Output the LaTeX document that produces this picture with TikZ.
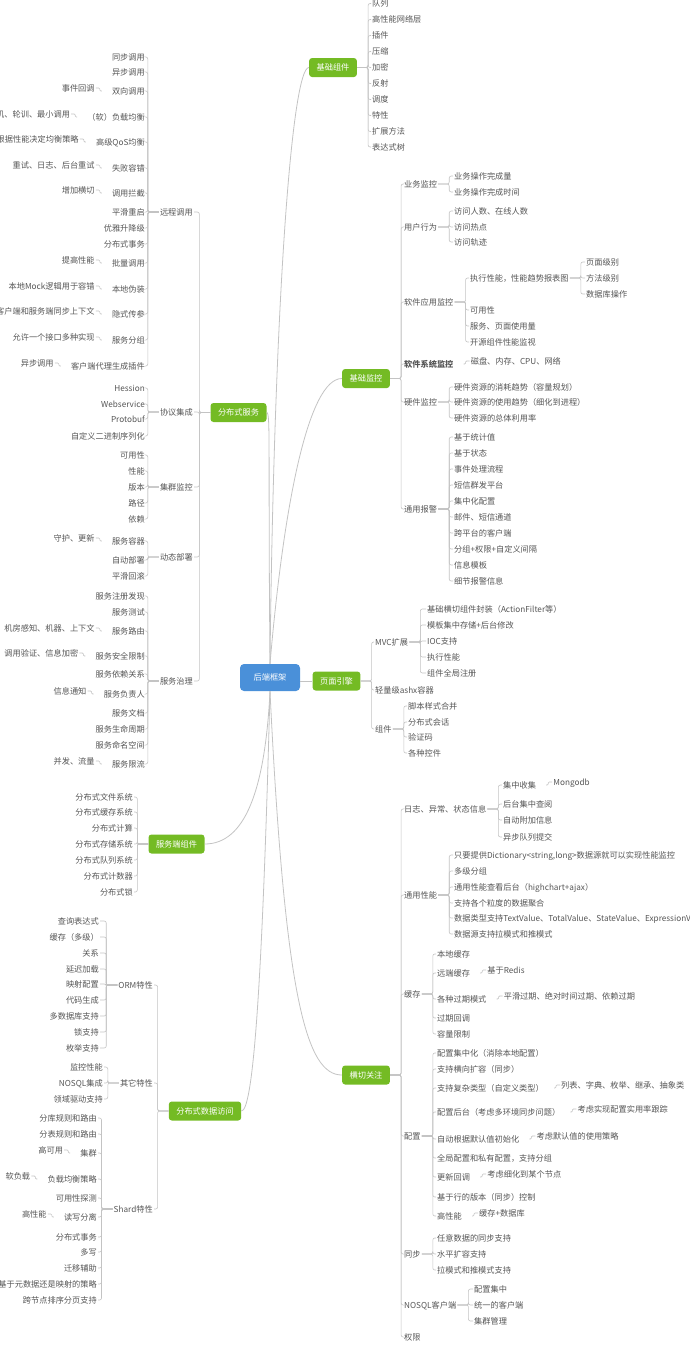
\documentclass[tikz,border=0pt]{standalone}
\usepackage{fontspec}
\setmainfont{Noto Sans CJK SC}
\usepackage{tikz}
\usetikzlibrary{positioning}
\definecolor{txt}{RGB}{85,85,85}
\definecolor{lnk}{RGB}{195,195,195}
\definecolor{grn}{RGB}{116,187,36}
\definecolor{blu}{RGB}{74,144,217}
\newcommand\fs{\fontsize{8.2}{10}\selectfont}

\begin{document}
\begin{tikzpicture}[x=1pt,y=-1pt]
\tikzstyle{every node}+=[inner sep=1pt, text=txt, font=\fs, text height=7.2pt, text depth=1pt]
\tikzstyle{rt}=[anchor=west]
\tikzstyle{lt}=[anchor=east]
\tikzstyle{box}=[fill=grn, text=white, rounded corners=3pt, inner xsep=7.5pt, minimum height=19pt]
\tikzstyle{root}=[fill=blu, text=white, rounded corners=4pt, minimum width=60pt, minimum height=27pt]
\tikzstyle{link}=[draw=lnk, line width=0.6pt, rounded corners=2pt]
\tikzstyle{hook}=[draw=lnk, line width=0.6pt, rounded corners=1pt, shorten <=9pt]
\tikzstyle{curve}=[draw=lnk, line width=0.8pt]
\tikzstyle{toR}=[to path={-- ++(11,0) |- (\tikztotarget)}]
\tikzstyle{toL}=[to path={-- ++(-11,0) |- (\tikztotarget)}]
\useasboundingbox (0,0) rectangle (690,1345);

% centre and main branches
\node[root] (root) at (270,677.5) {后端框架};
\node[box] (jczj) at (333,67.5) {基础组件};
\node[box] (jcjk) at (366,378.5) {基础监控};
\node[box] (ymyq) at (336.5,681) {页面引擎};
\node[box] (qqgz) at (366,1075) {横切关注};
\node[box] (fbsfw) at (238.5,412.5) {分布式服务};
\node[box] (fwdzj) at (176.5,844) {服务端组件};
\node[box] (fbssj) at (205,1111) {分布式数据访问};

\draw[curve] (root.north) .. controls +(4,-360) and +(-17,0) .. (jczj.west);
\draw[curve] (root.north) .. controls +(14,-163) and +(-33,0) .. (jcjk.west);
\draw[curve] (root.north) .. controls +(-2,-213) and +(4,0) .. (fbsfw.east);
\draw[curve] (root.east |- ymyq.west) -- (ymyq.west);
\draw[curve] (root.south) .. controls +(-5,100) and +(40,0) .. (fwdzj.east);
\draw[curve] (root.south) .. controls +(-8,310) and +(11,0) .. (fbssj.east);
\draw[curve] (root.south) .. controls +(15,310) and +(-35,0) .. (qqgz.west);

% 基础组件
\node[rt] (jz1) at (371,3.5) {队列};
\node[rt] (jz2) at (371,19.5) {高性能网络层};
\node[rt] (jz3) at (371,35.5) {插件};
\node[rt] (jz4) at (371,51.5) {压缩};
\node[rt] (jz5) at (371,67.5) {加密};
\node[rt] (jz6) at (371,83.5) {反射};
\node[rt] (jz7) at (371,99.5) {调度};
\node[rt] (jz8) at (371,115.5) {特性};
\node[rt] (jz9) at (371,131.5) {扩展方法};
\node[rt] (jz10) at (371,147) {表达式树};
\draw[link] (jczj.east) edge[toR] (jz1.west) edge[toR] (jz2.west) edge[toR] (jz3.west)
  edge[toR] (jz4.west) edge[toR] (jz5.west) edge[toR] (jz6.west) edge[toR] (jz7.west)
  edge[toR] (jz8.west) edge[toR] (jz9.west) edge[toR] (jz10.west);

% 基础监控
\node[rt] (ywjk) at (403,184) {业务监控};
\node[rt] (yhxw) at (403,227) {用户行为};
\node[rt] (rjyy) at (403,302) {软件应用监控};
\node[rt, font=\fs\bfseries] (rjxt) at (403,364) {软件系统监控};
\node[rt] (yjjk) at (403,402) {硬件监控};
\node[rt] (tybj) at (403,509) {通用报警};
\draw[link] (jcjk.east) edge[toR] (ywjk.west) edge[toR] (yhxw.west) edge[toR] (rjyy.west)
  edge[toR] (rjxt.west) edge[toR] (yjjk.west) edge[toR] (tybj.west);

\node[rt] (yw1) at (453,176) {业务操作完成量};
\node[rt] (yw2) at (453,192) {业务操作完成时间};
\draw[link] (ywjk.east) edge[toR] (yw1.west) edge[toR] (yw2.west);

\node[rt] (yh1) at (453,211) {访问人数、在线人数};
\node[rt] (yh2) at (453,227) {访问热点};
\node[rt] (yh3) at (453,242) {访问轨迹};
\draw[link] (yhxw.east) edge[toR] (yh1.west) edge[toR] (yh2.west) edge[toR] (yh3.west);

\node[rt] (ry1) at (469,278) {执行性能，性能趋势报表图};
\node[rt] (ry2) at (469,310) {可用性};
\node[rt] (ry3) at (469,326) {服务、页面使用量};
\node[rt] (ry4) at (469,342) {开源组件性能监视};
\draw[link] (rjyy.east) edge[toR] (ry1.west) edge[toR] (ry2.west) edge[toR] (ry3.west) edge[toR] (ry4.west);

\node[rt] (zx1) at (585,262) {页面级别};
\node[rt] (zx2) at (585,278) {方法级别};
\node[rt] (zx3) at (585,294) {数据库操作};
\draw[link] (ry1.east) edge[toR] (zx1.west) edge[toR] (zx2.west) edge[toR] (zx3.west);

\node[right=15pt of rjxt, yshift=3pt] (xt1) {磁盘、内存、CPU、网络};
\draw[hook] (rjxt.east) to[toR] (xt1.west);

\node[rt] (yj1) at (453,387) {硬件资源的消耗趋势（容量规划）};
\node[rt] (yj2) at (453,402) {硬件资源的使用趋势（细化到进程）};
\node[rt] (yj3) at (453,418) {硬件资源的总体利用率};
\draw[link] (yjjk.east) edge[toR] (yj1.west) edge[toR] (yj2.west) edge[toR] (yj3.west);

\node[rt] (bj1) at (453,437) {基于统计值};
\node[rt] (bj2) at (453,453) {基于状态};
\node[rt] (bj3) at (453,469) {事件处理流程};
\node[rt] (bj4) at (453,485) {短信群发平台};
\node[rt] (bj5) at (453,501) {集中化配置};
\node[rt] (bj6) at (453,517) {邮件、短信通道};
\node[rt] (bj7) at (453,533) {跨平台的客户端};
\node[rt] (bj8) at (453,549) {分组+权限+自定义间隔};
\node[rt] (bj9) at (453,565) {信息模板};
\node[rt] (bj10) at (453,581) {细节报警信息};
\draw[link] (tybj.east) edge[toR] (bj1.west) edge[toR] (bj2.west) edge[toR] (bj3.west)
  edge[toR] (bj4.west) edge[toR] (bj5.west) edge[toR] (bj6.west) edge[toR] (bj7.west)
  edge[toR] (bj8.west) edge[toR] (bj9.west) edge[toR] (bj10.west);

% 页面引擎
\node[rt] (mvc) at (374,642) {MVC扩展};
\node[rt] (ashx) at (374,690) {轻量级ashx容器};
\node[rt] (zj) at (374,729) {组件};
\draw[link] (ymyq.east) edge[toR] (mvc.west) edge[toR] (ashx.west) edge[toR] (zj.west);

\node[rt] (mv1) at (426,609) {基础横切组件封装（ActionFilter等）};
\node[rt] (mv2) at (426,625) {模板集中存储+后台修改};
\node[rt] (mv3) at (426,641) {IOC支持};
\node[rt] (mv4) at (426,657) {执行性能};
\node[rt] (mv5) at (426,673) {组件全局注册};
\draw[link] (mvc.east) edge[toR] (mv1.west) edge[toR] (mv2.west) edge[toR] (mv3.west)
  edge[toR] (mv4.west) edge[toR] (mv5.west);

\node[rt] (zj1) at (407,706) {脚本样式合并};
\node[rt] (zj2) at (407,722) {分布式会话};
\node[rt] (zj3) at (407,737) {验证码};
\node[rt] (zj4) at (407,753) {各种控件};
\draw[link] (zj.east) edge[toR] (zj1.west) edge[toR] (zj2.west) edge[toR] (zj3.west) edge[toR] (zj4.west);

% 横切关注
\node[rt] (rz) at (403,809) {日志、异常、状态信息};
\node[rt] (tyxn) at (403,895) {通用性能};
\node[rt] (hc) at (403,994) {缓存};
\node[rt] (pz) at (403,1136) {配置};
\node[rt] (tb) at (403,1254) {同步};
\node[rt] (nosql) at (403,1305) {NOSQL客户端};
\node[rt] (qx) at (403,1337) {权限};
\draw[link] (qqgz.east) edge[toR] (rz.west) edge[toR] (tyxn.west) edge[toR] (hc.west)
  edge[toR] (pz.west) edge[toR] (tb.west) edge[toR] (nosql.west) edge[toR] (qx.west);

\node[rt] (rz1) at (502,785) {集中收集};
\node[rt] (rz2) at (502,804) {后台集中查阅};
\node[rt] (rz3) at (502,820) {自动附加信息};
\node[rt] (rz4) at (502,837) {异步队列提交};
\draw[link] (rz.east) edge[toR] (rz1.west) edge[toR] (rz2.west) edge[toR] (rz3.west) edge[toR] (rz4.west);
\node[right=15pt of rz1, yshift=3pt] (mgdb) {Mongodb};
\draw[hook] (rz1.east) to[toR] (mgdb.west);

\node[rt] (xn1) at (453,855) {只要提供Dictionary<string,long>数据源就可以实现性能监控};
\node[rt] (xn2) at (453,871) {多级分组};
\node[rt] (xn3) at (453,887) {通用性能查看后台（highchart+ajax）};
\node[rt] (xn4) at (453,903) {支持各个粒度的数据聚合};
\node[rt] (xn5) at (453,918) {数据类型支持TextValue、TotalValue、StateValue、ExpressionValue};
\node[rt] (xn6) at (453,934) {数据源支持拉模式和推模式};
\draw[link] (tyxn.east) edge[toR] (xn1.west) edge[toR] (xn2.west) edge[toR] (xn3.west)
  edge[toR] (xn4.west) edge[toR] (xn5.west) edge[toR] (xn6.west);

\node[rt] (hc1) at (436,954) {本地缓存};
\node[rt] (hc2) at (436,973) {远端缓存};
\node[rt] (hc3) at (436,999) {各种过期模式};
\node[rt] (hc4) at (436,1018) {过期回调};
\node[rt] (hc5) at (436,1034) {容量限制};
\draw[link] (hc.east) edge[toR] (hc1.west) edge[toR] (hc2.west) edge[toR] (hc3.west)
  edge[toR] (hc4.west) edge[toR] (hc5.west);
\node[right=15pt of hc2, yshift=3pt] (redis) {基于Redis};
\node[right=15pt of hc3, yshift=3pt] (gq) {平滑过期、绝对时间过期、依赖过期};
\draw[hook] (hc2.east) to[toR] (redis.west);
\draw[hook] (hc3.east) to[toR] (gq.west);

\node[rt] (pz1) at (436,1053) {配置集中化（消除本地配置）};
\node[rt] (pz2) at (436,1069) {支持横向扩容（同步）};
\node[rt] (pz3) at (436,1088) {支持复杂类型（自定义类型）};
\node[rt] (pz4) at (436,1112) {配置后台（考虑多环境同步问题）};
\node[rt] (pz5) at (436,1139) {自动根据默认值初始化};
\node[rt] (pz6) at (436,1158) {全局配置和私有配置，支持分组};
\node[rt] (pz7) at (436,1177) {更新回调};
\node[rt] (pz8) at (436,1197) {基于行的版本（同步）控制};
\node[rt] (pz9) at (436,1216) {高性能};
\draw[link] (pz.east) edge[toR] (pz1.west) edge[toR] (pz2.west) edge[toR] (pz3.west)
  edge[toR] (pz4.west) edge[toR] (pz5.west) edge[toR] (pz6.west) edge[toR] (pz7.west)
  edge[toR] (pz8.west) edge[toR] (pz9.west);
\node[right=15pt of pz3, yshift=3pt] (lb) {列表、字典、枚举、继承、抽象类};
\node[right=15pt of pz4, yshift=3pt] (syl) {考虑实现配置实用率跟踪};
\node[right=15pt of pz5, yshift=3pt] (mrz) {考虑默认值的使用策略};
\node[right=15pt of pz7, yshift=3pt] (jd) {考虑细化到某个节点};
\node[right=15pt of pz9, yshift=3pt] (hcsj) {缓存+数据库};
\draw[hook] (pz3.east) to[toR] (lb.west);
\draw[hook] (pz4.east) to[toR] (syl.west);
\draw[hook] (pz5.east) to[toR] (mrz.west);
\draw[hook] (pz7.east) to[toR] (jd.west);
\draw[hook] (pz9.east) to[toR] (hcsj.west);

\node[rt] (tb1) at (436,1238) {任意数据的同步支持};
\node[rt] (tb2) at (436,1254) {水平扩容支持};
\node[rt] (tb3) at (436,1270) {拉模式和推模式支持};
\draw[link] (tb.east) edge[toR] (tb1.west) edge[toR] (tb2.west) edge[toR] (tb3.west);

\node[rt] (ns1) at (473,1289) {配置集中};
\node[rt] (ns2) at (473,1305) {统一的客户端};
\node[rt] (ns3) at (473,1321) {集群管理};
\draw[link] (nosql.east) edge[toR] (ns1.west) edge[toR] (ns2.west) edge[toR] (ns3.west);

% 分布式服务
\node[lt] (ycdy) at (194,212) {远程调用};
\node[lt] (xyjc) at (194,412) {协议集成};
\node[lt] (jqjk) at (194,487) {集群监控};
\node[lt] (dtbs) at (194,557) {动态部署};
\node[lt] (fwzl) at (194,681) {服务治理};
\draw[link] (fbsfw.west) edge[toL] (ycdy.east) edge[toL] (xyjc.east) edge[toL] (jqjk.east)
  edge[toL] (dtbs.east) edge[toL] (fwzl.east);

\node[lt] (yc1) at (146,57) {同步调用};
\node[lt] (yc2) at (146,72) {异步调用};
\node[lt] (yc3) at (146,91) {双向调用};
\node[lt] (yc4) at (146,117) {（软）负载均衡};
\node[lt] (yc5) at (146,142) {高级QoS均衡};
\node[lt] (yc6) at (146,168) {失败容错};
\node[lt] (yc7) at (146,193) {调用拦截};
\node[lt] (yc8) at (146,212) {平滑重启};
\node[lt] (yc9) at (146,228) {优雅升降级};
\node[lt] (yc10) at (146,244) {分布式事务};
\node[lt] (yc11) at (146,263) {批量调用};
\node[lt] (yc12) at (146,289) {本地伪装};
\node[lt] (yc13) at (146,314) {隐式传参};
\node[lt] (yc14) at (146,340) {服务分组};
\node[lt] (yc15) at (146,366) {客户端代理生成插件};
\draw[link] (ycdy.west) edge[toL] (yc1.east) edge[toL] (yc2.east) edge[toL] (yc3.east)
  edge[toL] (yc4.east) edge[toL] (yc5.east) edge[toL] (yc6.east) edge[toL] (yc7.east)
  edge[toL] (yc8.east) edge[toL] (yc9.east) edge[toL] (yc10.east) edge[toL] (yc11.east)
  edge[toL] (yc12.east) edge[toL] (yc13.east) edge[toL] (yc14.east) edge[toL] (yc15.east);
\node[left=15pt of yc3, yshift=3pt] (sjhd) {事件回调};
\node[left=15pt of yc4, yshift=3pt] (sj) {随机、轮训、最小调用};
\node[left=15pt of yc5, yshift=3pt] (gjcl) {根据性能决定均衡策略};
\node[left=15pt of yc6, yshift=3pt] (cs) {重试、日志、后台重试};
\node[left=15pt of yc7, yshift=3pt] (zjhq) {增加横切};
\node[left=15pt of yc11, yshift=3pt] (tgxn) {提高性能};
\node[left=15pt of yc12, yshift=3pt] (mock) {本地Mock逻辑用于容错};
\node[left=15pt of yc13, yshift=3pt] (sxw) {客户端和服务端同步上下文};
\node[left=15pt of yc14, yshift=3pt] (dzsx) {允许一个接口多种实现};
\node[left=15pt of yc15, yshift=3pt] (ybdy) {异步调用};
\draw[hook] (yc3.west) to[toL] (sjhd.east);
\draw[hook] (yc4.west) to[toL] (sj.east);
\draw[hook] (yc5.west) to[toL] (gjcl.east);
\draw[hook] (yc6.west) to[toL] (cs.east);
\draw[hook] (yc7.west) to[toL] (zjhq.east);
\draw[hook] (yc11.west) to[toL] (tgxn.east);
\draw[hook] (yc12.west) to[toL] (mock.east);
\draw[hook] (yc13.west) to[toL] (sxw.east);
\draw[hook] (yc14.west) to[toL] (dzsx.east);
\draw[hook] (yc15.west) to[toL] (ybdy.east);

\node[lt] (xy1) at (146,388) {Hession};
\node[lt] (xy2) at (146,404) {Webservice};
\node[lt] (xy3) at (146,419) {Protobuf};
\node[lt] (xy4) at (146,436) {自定义二进制序列化};
\draw[link] (xyjc.west) edge[toL] (xy1.east) edge[toL] (xy2.east) edge[toL] (xy3.east) edge[toL] (xy4.east);

\node[lt] (jq1) at (146,455) {可用性};
\node[lt] (jq2) at (146,471) {性能};
\node[lt] (jq3) at (146,487) {版本};
\node[lt] (jq4) at (146,503) {路径};
\node[lt] (jq5) at (146,519) {依赖};
\draw[link] (jqjk.west) edge[toL] (jq1.east) edge[toL] (jq2.east) edge[toL] (jq3.east)
  edge[toL] (jq4.east) edge[toL] (jq5.east);

\node[lt] (dt1) at (146,541) {服务容器};
\node[lt] (dt2) at (146,560) {自动部署};
\node[lt] (dt3) at (146,576) {平滑回滚};
\draw[link] (dtbs.west) edge[toL] (dt1.east) edge[toL] (dt2.east) edge[toL] (dt3.east);
\node[left=15pt of dt1, yshift=3pt] (shgx) {守护、更新};
\draw[hook] (dt1.west) to[toL] (shgx.east);

\node[lt] (zl1) at (146,596) {服务注册发现};
\node[lt] (zl2) at (146,612) {服务测试};
\node[lt] (zl3) at (146,631) {服务路由};
\node[lt] (zl4) at (146,656) {服务安全限制};
\node[lt] (zl5) at (146,674) {服务依赖关系};
\node[lt] (zl6) at (146,694) {服务负责人};
\node[lt] (zl7) at (146,713) {服务文档};
\node[lt] (zl8) at (146,729) {服务生命周期};
\node[lt] (zl9) at (146,745) {服务命名空间};
\node[lt] (zl10) at (146,764) {服务限流};
\draw[link] (fwzl.west) edge[toL] (zl1.east) edge[toL] (zl2.east) edge[toL] (zl3.east)
  edge[toL] (zl4.east) edge[toL] (zl5.east) edge[toL] (zl6.east) edge[toL] (zl7.east)
  edge[toL] (zl8.east) edge[toL] (zl9.east) edge[toL] (zl10.east);
\node[left=15pt of zl3, yshift=3pt] (jfgz) {机房感知、机器、上下文};
\node[left=15pt of zl4, yshift=3pt] (yzjm) {调用验证、信息加密};
\node[left=15pt of zl6, yshift=3pt] (xxtz) {信息通知};
\node[left=15pt of zl10, yshift=3pt] (bfll) {并发、流量};
\draw[hook] (zl3.west) to[toL] (jfgz.east);
\draw[hook] (zl4.west) to[toL] (yzjm.east);
\draw[hook] (zl6.west) to[toL] (xxtz.east);
\draw[hook] (zl10.west) to[toL] (bfll.east);

% 服务端组件
\node[lt] (fd1) at (134,797) {分布式文件系统};
\node[lt] (fd2) at (134,812) {分布式缓存系统};
\node[lt] (fd3) at (134,828) {分布式计算};
\node[lt] (fd4) at (134,844) {分布式存储系统};
\node[lt] (fd5) at (134,860) {分布式队列系统};
\node[lt] (fd6) at (134,876) {分布式计数器};
\node[lt] (fd7) at (134,892) {分布式锁};
\draw[link] (fwdzj.west) edge[toL] (fd1.east) edge[toL] (fd2.east) edge[toL] (fd3.east)
  edge[toL] (fd4.east) edge[toL] (fd5.east) edge[toL] (fd6.east) edge[toL] (fd7.east);

% 分布式数据访问
\node[lt] (orm) at (154,985) {ORM特性};
\node[lt] (qtdx) at (154,1083) {其它特性};
\node[lt] (shard) at (154,1209) {Shard特性};
\draw[link] (fbssj.west) edge[toL] (orm.east) edge[toL] (qtdx.east) edge[toL] (shard.east);

\node[lt] (or1) at (100,921) {查询表达式};
\node[lt] (or2) at (100,937) {缓存（多级）};
\node[lt] (or3) at (100,953) {关系};
\node[lt] (or4) at (100,969) {延迟加载};
\node[lt] (or5) at (100,984) {映射配置};
\node[lt] (or6) at (100,1000) {代码生成};
\node[lt] (or7) at (100,1016) {多数据库支持};
\node[lt] (or8) at (100,1032) {锁支持};
\node[lt] (or9) at (100,1048) {枚举支持};
\draw[link] (orm.west) edge[toL] (or1.east) edge[toL] (or2.east) edge[toL] (or3.east)
  edge[toL] (or4.east) edge[toL] (or5.east) edge[toL] (or6.east) edge[toL] (or7.east)
  edge[toL] (or8.east) edge[toL] (or9.east);

\node[lt] (qt1) at (104,1067) {监控性能};
\node[lt] (qt2) at (104,1083) {NOSQL集成};
\node[lt] (qt3) at (104,1099) {领域驱动支持};
\draw[link] (qtdx.west) edge[toL] (qt1.east) edge[toL] (qt2.east) edge[toL] (qt3.east);

\node[lt] (sd1) at (98,1118) {分库规则和路由};
\node[lt] (sd2) at (98,1134) {分表规则和路由};
\node[lt] (sd3) at (98,1153) {集群};
\node[lt] (sd4) at (98,1179) {负载均衡策略};
\node[lt] (sd5) at (98,1198) {可用性探测};
\node[lt] (sd6) at (98,1217) {读写分离};
\node[lt] (sd7) at (98,1237) {分布式事务};
\node[lt] (sd8) at (98,1252) {多写};
\node[lt] (sd9) at (98,1268) {迁移辅助};
\node[lt] (sd10) at (98,1284) {基于元数据还是映射的策略};
\node[lt] (sd11) at (98,1300) {跨节点排序分页支持};
\draw[link] (shard.west) edge[toL] (sd1.east) edge[toL] (sd2.east) edge[toL] (sd3.east)
  edge[toL] (sd4.east) edge[toL] (sd5.east) edge[toL] (sd6.east) edge[toL] (sd7.east)
  edge[toL] (sd8.east) edge[toL] (sd9.east) edge[toL] (sd10.east) edge[toL] (sd11.east);
\node[left=15pt of sd3, yshift=3pt] (gky) {高可用};
\node[left=15pt of sd4, yshift=3pt] (rfz) {软负载};
\node[left=15pt of sd6, yshift=3pt] (gxn) {高性能};
\draw[hook] (sd3.west) to[toL] (gky.east);
\draw[hook] (sd4.west) to[toL] (rfz.east);
\draw[hook] (sd6.west) to[toL] (gxn.east);

\end{tikzpicture}
\end{document}
